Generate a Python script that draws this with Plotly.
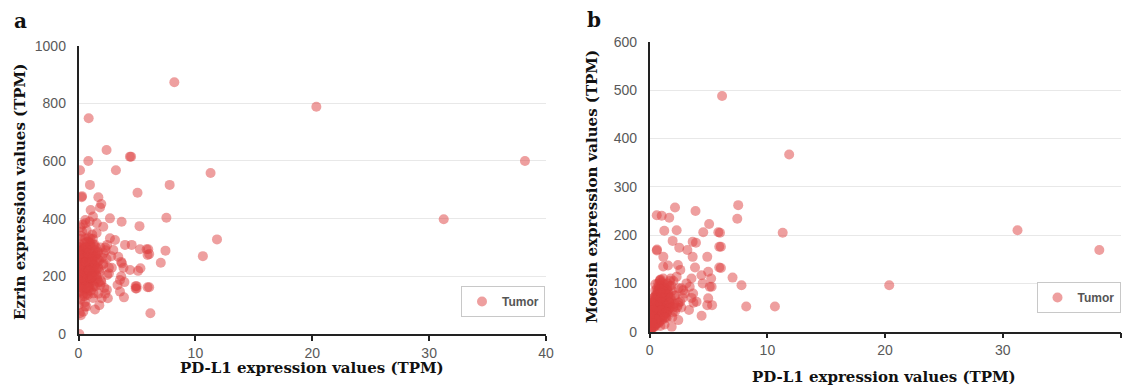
import plotly.graph_objects as go

# ---- data: each sample has PD-L1 (x), Ezrin (left y), Moesin (right y) ----
pdl1_dense = [
    0.02,0.05,0.08,0.10,0.12,0.15,0.18,0.20,0.22,0.25,
    0.27,0.30,0.32,0.35,0.37,0.40,0.42,0.45,0.47,0.50,
    0.52,0.55,0.57,0.60,0.62,0.65,0.67,0.70,0.72,0.75,
    0.77,0.80,0.82,0.85,0.87,0.90,0.92,0.95,0.97,1.00,
    1.03,1.06,1.09,1.12,1.15,1.18,1.21,1.24,1.27,1.30,
    1.34,1.38,1.42,1.46,1.50,1.55,1.60,1.65,1.70,1.76,
    1.82,1.88,1.95,2.02,2.10,2.20,2.32,2.45,2.60,2.80,
    0.04,0.09,0.14,0.19,0.24,0.29,0.34,0.39,0.44,0.49,
    0.54,0.59,0.64,0.69,0.74,0.79,0.84,0.89,0.94,0.99,
    1.05,1.11,1.17,1.23,1.29,1.36,1.44,1.52,1.62,1.72,
    0.03,0.07,0.11,0.16,0.21,0.26,0.31,0.36,0.41,0.46,
    0.51,0.56,0.61,0.66,0.71,0.76,0.81,0.86,0.91,0.96,
    1.01,1.08,1.14,1.20,1.26,1.32,1.40,1.48,1.58,1.68,
    0.06,0.13,0.23,0.33,0.43,0.53,0.63,0.73,0.83,0.93,
    1.02,1.13,1.25,1.37,1.49,1.63,1.78,1.92,2.15,2.40,
    0.01,0.17,0.28,0.38,0.48,0.58,0.68,0.78,0.88,0.98,
]
ezrin_dense = [
    180,145,260,310,205,120,235,290,170,340,
    215,160,275,195,380,250,140,225,300,185,
    265,110,330,210,155,285,240,360,175,220,
    295,135,255,200,320,170,245,390,190,270,
    230,150,305,215,180,345,260,125,280,200,
    240,310,165,270,225,350,190,285,140,255,
    215,300,180,265,240,160,290,205,230,270,
    240,200,330,150,275,225,185,300,255,130,
    210,290,175,245,320,195,265,150,230,305,
    185,255,215,330,170,235,290,205,260,180,
    300,225,170,280,240,195,355,160,265,210,
    245,185,300,230,140,270,215,335,190,250,
    225,280,195,250,310,165,240,275,200,230,
    265,235,205,290,175,315,250,200,280,160,
    195,240,270,215,300,250,225,185,280,260,
    100,370,245,130,210,395,95,160,220,315,
]
moesin_dense = [
    5,20,12,35,8,45,25,15,60,30,
    40,10,55,28,70,18,48,33,85,22,
    50,15,75,38,90,26,62,44,100,35,
    58,20,80,45,105,30,68,52,95,40,
    65,25,85,48,110,36,72,55,92,42,
    70,30,88,52,100,45,78,60,95,50,
    65,85,40,105,58,75,50,90,62,70,
    18,30,8,50,22,65,38,12,45,75,
    28,60,82,20,48,95,35,70,25,55,
    80,38,62,98,45,72,28,85,55,105,
    30,3,42,15,52,28,10,60,36,20,
    65,42,18,78,50,32,88,60,12,72,
    48,90,32,68,15,82,56,40,75,62,
    2,55,25,45,10,68,40,85,30,108,
    102,58,35,78,90,48,70,30,42,55,
    10,38,70,22,98,50,62,18,80,45,
]

pdl1_mid = [
    0.13,0.27,0.30,0.60,0.62,0.60,0.84,0.87,0.98,1.02,
    1.04,1.15,1.16,1.24,1.56,1.66,1.70,1.78,1.84,1.87,
    1.95,2.12,2.15,2.29,2.29,2.40,2.43,2.45,2.51,2.60,
    2.69,2.69,2.85,2.98,3.12,3.20,3.34,3.40,3.55,3.55,
    3.65,3.65,3.69,3.72,3.85,3.89,3.93,3.98,4.40,4.41,
    4.50,4.55,4.89,4.89,4.97,4.97,5.05,5.10,5.22,5.30,
    5.26,5.83,5.91,5.91,5.97,6.05,6.05,6.15,
    0.07,1.41,0.41,0.56,1.98,1.27,0.00,0.00,0.00,0.00,0.10,0.20,
]
ezrin_mid = [
    568,474,478,384,250,300,600,748,517,330,
    430,260,200,407,384,280,474,100,439,170,
    451,372,245,300,140,638,153,309,124,210,
    401,332,230,291,326,568,170,268,187,147,
    250,200,389,245,230,127,180,309,615,222,
    615,309,158,166,166,158,490,219,374,228,
    294,294,274,162,294,162,277,72,
    0,85,77,95,124,141,187,164,303,286,72,65,
]
moesin_mid = [
    60,30,45,168,170,241,90,107,70,240,
    80,135,155,209,137,236,60,110,95,10,
    188,75,257,210,114,138,24,60,174,128,
    90,50,86,79,100,169,45,93,110,70,
    186,155,79,60,133,250,184,62,117,33,
    100,206,155,55,124,69,223,93,110,55,
    93,206,176,133,205,176,132,488,
    2,40,15,25,50,30,8,20,35,12,5,18,
]

pdl1_out = [7.04, 7.44, 7.52, 7.80, 8.20, 10.64, 11.30, 11.85, 20.35, 31.25, 38.20]
ezrin_out = [247, 289, 403, 517, 873, 270, 558, 328, 788, 398, 600]
moesin_out = [112, 234, 262, 96, 52, 52, 205, 367, 96, 210, 169]

pdl1 = pdl1_dense + pdl1_mid + pdl1_out
ezrin = ezrin_dense + ezrin_mid + ezrin_out
moesin = moesin_dense + moesin_mid + moesin_out

x_ticks = [0, 10, 20, 30, 40]
ez_ticks = [0, 200, 400, 600, 800, 1000]
mo_ticks = [0, 100, 200, 300, 400, 500, 600]

W, H = 1126, 390
marker = dict(size=10, color="rgba(222,64,64,0.5)", line=dict(width=0))

fig = go.Figure()
fig.add_trace(go.Scatter(x=pdl1, y=ezrin, mode="markers", name="Tumor",
                         marker=marker, xaxis="x", yaxis="y", legend="legend"))
fig.add_trace(go.Scatter(x=pdl1, y=moesin, mode="markers", name="Tumor",
                         marker=marker, xaxis="x2", yaxis="y2", legend="legend2"))

tickfont = dict(family="Liberation Sans, Arial, sans-serif", size=14, color="#595959")
xcommon = dict(range=[0, 40], tickvals=x_ticks, showgrid=False, zeroline=False,
               showline=True, linecolor="#222", linewidth=1.5,
               ticks="outside", ticklen=5, tickcolor="#222", tickwidth=1.5,
               tickfont=tickfont, automargin=False)
ycommon = dict(showgrid=True, gridcolor="#e8e8e8", gridwidth=1, zeroline=False,
               showline=True, linecolor="#222", linewidth=1.5, ticks="",
               tickfont=tickfont, ticklabelstandoff=8, automargin=False)

legfont = dict(family="Liberation Sans, Arial, sans-serif", size=12, color="#555555", weight="bold")

fig.update_layout(
    width=W, height=H,
    margin=dict(l=0, r=0, t=0, b=0, autoexpand=False),
    paper_bgcolor="white", plot_bgcolor="white",
    showlegend=True,
    xaxis=dict(domain=[78.5 / W, 546 / W], anchor="y", **xcommon),
    yaxis=dict(domain=[56 / H, 344.4 / H], anchor="x", range=[0, 1000], tickvals=ez_ticks, **ycommon),
    xaxis2=dict(domain=[649.7 / W, 1120.5 / W], anchor="y2", **xcommon),
    yaxis2=dict(domain=[58.3 / H, 348.1 / H], anchor="x2", range=[0, 600], tickvals=mo_ticks, **ycommon),
    legend=dict(x=545 / W, y=73 / H, xanchor="right", yanchor="bottom",
                bgcolor="white", bordercolor="#c8c8c8", borderwidth=1,
                font=legfont, itemwidth=30, tracegroupgap=0,
                itemclick=False),
    legend2=dict(x=1120.5 / W, y=77 / H, xanchor="right", yanchor="bottom",
                 bgcolor="white", bordercolor="#c8c8c8", borderwidth=1,
                 font=legfont, itemwidth=30, tracegroupgap=0,
                 itemclick=False),
)

serif_bold = dict(family="DejaVu Serif, serif", size=15, color="#111", weight="bold")
ann = [
    dict(text="a", x=12 / W, y=1 - 21 / H, xanchor="left", yanchor="middle",
         font=dict(family="DejaVu Serif, serif", size=20, color="#111", weight="bold")),
    dict(text="b", x=585 / W, y=1 - 20 / H, xanchor="left", yanchor="middle",
         font=dict(family="DejaVu Serif, serif", size=20, color="#111", weight="bold")),
    dict(text="PD-L1 expression values (TPM)", x=312 / W, y=1 - 368 / H,
         xanchor="center", yanchor="middle", font=serif_bold),
    dict(text="PD-L1 expression values (TPM)", x=884 / W, y=1 - 377 / H,
         xanchor="center", yanchor="middle", font=serif_bold),
    dict(text="Ezrin expression values (TPM)", x=20 / W, y=1 - 192 / H,
         xanchor="center", yanchor="middle", textangle=-90, font=serif_bold),
    dict(text="Moesin expression values (TPM)", x=592 / W, y=1 - 187 / H,
         xanchor="center", yanchor="middle", textangle=-90, font=serif_bold),
]
for a in ann:
    a.update(xref="paper", yref="paper", showarrow=False)
fig.update_layout(annotations=ann)

fig.write_html("out.html", config={"displayModeBar": False},
               post_script="document.body.style.margin='0';")
